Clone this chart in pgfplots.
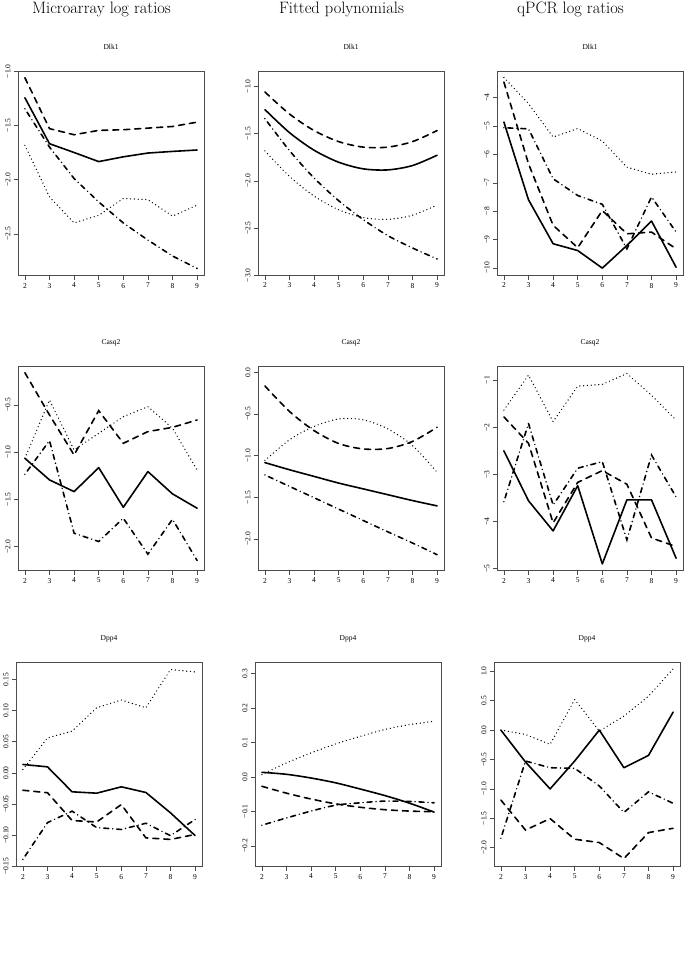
\documentclass[border=0pt]{standalone}
\usepackage{pgfplots}
\pgfplotsset{compat=1.18}
\usepackage{fontspec}
\newfontfamily\timesfont{Liberation Serif}
\newcommand\tickfont{\fontsize{7.5}{8}\selectfont\timesfont}
\pgfplotsset{
  rplot/.style={
    scale only axis, width=186pt, height=204.5pt,
    anchor=north west,
    xmin=1.72, xmax=9.28,
    xtick={2,3,4,5,6,7,8,9},
    xticklabels={2,3,4,5,6,7,8,9},
    axis line style={black!70, line width=0.6pt},
    tick align=outside, major tick length=4pt,
    tick style={black!70, line width=0.5pt},
    xtick pos=left, ytick pos=left,
    ticklabel style={font=\tickfont},
    /pgf/number format/assume math mode=true,
    yticklabel style={rotate=90, anchor=south},
    title style={font=\tickfont, at={(0.5,1)}, anchor=base, yshift=16pt},
  },
  sol/.style={black, line width=1.6pt, line cap=round, line join=round},
  dsh/.style={black, line width=1.6pt, line cap=round, dash pattern=on 6pt off 5pt},
  dtt/.style={black, line width=1.4pt, line cap=round, dash pattern=on 0pt off 3.8pt},
  dd/.style={black, line width=1.6pt, line cap=round, dash pattern=on 0pt off 4pt on 5pt off 4pt},
}
\begin{document}
\begin{tikzpicture}
\useasboundingbox (0,0) rectangle (685pt,-974pt);
\node[anchor=base, font=\fontsize{16.5}{20}\selectfont] at (101.5pt,-13.5pt) {Microarray log ratios};
\node[anchor=base, font=\fontsize{16.5}{20}\selectfont] at (341.5pt,-13.5pt) {Fitted polynomials};
\node[anchor=base, font=\fontsize{16.5}{20}\selectfont] at (570.5pt,-13.5pt) {qPCR log ratios};

% Row 1: Dlk1
\begin{axis}[rplot, at={(18pt,-71pt)}, title=Dlk1,
  ymin=-2.885, ymax=-0.998,
  ytick={-2.5,-2,-1.5,-1}, yticklabels={−2.5,−2.0,−1.5,−1.0}]
\addplot[sol] coordinates {(2,-1.245)(3,-1.669)(4,-1.75)(5,-1.834)(6,-1.79)(7,-1.755)(8,-1.74)(9,-1.727)};
\addplot[dsh] coordinates {(2,-1.06)(3,-1.53)(4,-1.586)(5,-1.546)(6,-1.54)(7,-1.525)(8,-1.51)(9,-1.47)};
\addplot[dtt] coordinates {(2,-1.684)(3,-2.16)(4,-2.40)(5,-2.33)(6,-2.175)(7,-2.185)(8,-2.337)(9,-2.236)};
\addplot[dd] coordinates {(2,-1.347)(3,-1.70)(4,-1.99)(5,-2.206)(6,-2.40)(7,-2.558)(8,-2.705)(9,-2.82)};
\end{axis}

\begin{axis}[rplot, at={(258pt,-71pt)}, title=Dlk1,
  ymin=-3.001, ymax=-0.838,
  ytick={-3,-2.5,-2,-1.5,-1}, yticklabels={−3.0,−2.5,−2.0,−1.5,−1.0}]
\addplot[sol, smooth] coordinates {(2,-1.246)(3,-1.49)(4,-1.676)(5,-1.803)(6,-1.873)(7,-1.884)(8,-1.838)(9,-1.729)};
\addplot[dsh, smooth] coordinates {(2,-1.06)(3,-1.293)(4,-1.468)(5,-1.585)(6,-1.643)(7,-1.643)(8,-1.585)(9,-1.468)};
\addplot[dtt, smooth] coordinates {(2,-1.683)(3,-1.953)(4,-2.161)(5,-2.306)(6,-2.388)(7,-2.407)(8,-2.363)(9,-2.256)};
\addplot[dd, smooth] coordinates {(2,-1.342)(3,-1.68)(4,-1.97)(5,-2.21)(6,-2.41)(7,-2.58)(8,-2.71)(9,-2.826)};
\end{axis}

\begin{axis}[rplot, at={(497pt,-71pt)}, title=Dlk1,
  ymin=-10.27, ymax=-3.06,
  ytick={-10,-9,-8,-7,-6,-5,-4}, yticklabels={−10,−9,−8,−7,−6,−5,−4}]
\addplot[sol] coordinates {(2,-4.86)(3,-7.6)(4,-9.15)(5,-9.39)(6,-10.01)(7,-9.21)(8,-8.35)(9,-9.98)};
\addplot[dsh] coordinates {(2,-3.45)(3,-6.33)(4,-8.5)(5,-9.29)(6,-7.98)(7,-8.8)(8,-8.74)(9,-9.33)};
\addplot[dtt] coordinates {(2,-3.29)(3,-4.21)(4,-5.39)(5,-5.09)(6,-5.53)(7,-6.45)(8,-6.7)(9,-6.62)};
\addplot[dd] coordinates {(2,-5.06)(3,-5.1)(4,-6.86)(5,-7.45)(6,-7.76)(7,-9.33)(8,-7.5)(9,-8.74)};
\end{axis}

% Row 2: Casq2
\begin{axis}[rplot, at={(18pt,-366pt)}, title=Casq2,
  ymin=-2.254, ymax=-0.087,
  ytick={-2,-1.5,-1,-0.5}, yticklabels={−2.0,−1.5,−1.0,−0.5}]
\addplot[sol] coordinates {(2,-1.065)(3,-1.294)(4,-1.418)(5,-1.164)(6,-1.584)(7,-1.206)(8,-1.442)(9,-1.594)};
\addplot[dsh] coordinates {(2,-0.158)(3,-0.606)(4,-1.03)(5,-0.56)(6,-0.906)(7,-0.782)(8,-0.737)(9,-0.659)};
\addplot[dtt] coordinates {(2,-1.065)(3,-0.447)(4,-0.977)(5,-0.8)(6,-0.624)(7,-0.518)(8,-0.747)(9,-1.188)};
\addplot[dd] coordinates {(2,-1.234)(3,-0.878)(4,-1.859)(5,-1.947)(6,-1.7)(7,-2.081)(8,-1.711)(9,-2.148)};
\end{axis}

\begin{axis}[rplot, at={(258pt,-366pt)}, title=Casq2,
  ymin=-2.38, ymax=0.076,
  ytick={-2,-1.5,-1,-0.5,0}, yticklabels={−2.0,−1.5,−1.0,−0.5,0.0}]
\addplot[sol, smooth] coordinates {(2,-1.084)(3,-1.17)(4,-1.25)(5,-1.33)(6,-1.40)(7,-1.47)(8,-1.54)(9,-1.604)};
\addplot[dsh, smooth] coordinates {(2,-0.164)(3,-0.47)(4,-0.70)(5,-0.855)(6,-0.92)(7,-0.915)(8,-0.83)(9,-0.66)};
\addplot[dtt, smooth] coordinates {(2,-1.06)(3,-0.81)(4,-0.65)(5,-0.56)(6,-0.57)(7,-0.68)(8,-0.88)(9,-1.20)};
\addplot[dd, smooth] coordinates {(2,-1.232)(3,-1.37)(4,-1.506)(5,-1.643)(6,-1.78)(7,-1.916)(8,-2.05)(9,-2.19)};
\end{axis}

\begin{axis}[rplot, at={(497pt,-366pt)}, title=Casq2,
  ymin=-5.04, ymax=-0.70,
  ytick={-5,-4,-3,-2,-1}, yticklabels={−5,−4,−3,−2,−1}]
\addplot[sol] coordinates {(2,-2.50)(3,-3.56)(4,-4.20)(5,-3.24)(6,-4.9)(7,-3.54)(8,-3.54)(9,-4.78)};
\addplot[dsh] coordinates {(2,-1.78)(3,-2.34)(4,-4.03)(5,-3.17)(6,-2.92)(7,-3.21)(8,-4.35)(9,-4.53)};
\addplot[dtt] coordinates {(2,-1.635)(3,-0.894)(4,-1.88)(5,-1.127)(6,-1.09)(7,-0.86)(8,-1.32)(9,-1.85)};
\addplot[dd] coordinates {(2,-3.58)(3,-1.92)(4,-3.65)(5,-2.87)(6,-2.73)(7,-4.39)(8,-2.59)(9,-3.48)};
\end{axis}

% Row 3: Dpp4
\begin{axis}[rplot, at={(16pt,-662pt)}, title=Dpp4,
  ymin=-0.1505, ymax=0.178,
  ytick={-0.15,-0.1,-0.05,0,0.05,0.1,0.15}, yticklabels={−0.15,−0.10,−0.05,0.00,0.05,0.10,0.15}]
\addplot[sol] coordinates {(2,0.0134)(3,0.0096)(4,-0.0305)(5,-0.0327)(6,-0.0225)(7,-0.0316)(8,-0.0643)(9,-0.1008)};
\addplot[dsh] coordinates {(2,-0.028)(3,-0.032)(4,-0.0766)(5,-0.079)(6,-0.051)(7,-0.1045)(8,-0.107)(9,-0.099)};
\addplot[dtt] coordinates {(2,0.0054)(3,0.056)(4,0.067)(5,0.1045)(6,0.117)(7,0.1045)(8,0.166)(9,0.162)};
\addplot[dd] coordinates {(2,-0.139)(3,-0.080)(4,-0.0616)(5,-0.088)(6,-0.091)(7,-0.081)(8,-0.101)(9,-0.075)};
\end{axis}

\begin{axis}[rplot, at={(255pt,-662pt)}, title=Dpp4,
  ymin=-0.26, ymax=0.334,
  ytick={-0.2,-0.1,0,0.1,0.2,0.3}, yticklabels={−0.2,−0.1,0.0,0.1,0.2,0.3}]
\addplot[sol, smooth] coordinates {(2,0.0136)(3,0.0078)(4,-0.003)(5,-0.017)(6,-0.035)(7,-0.054)(8,-0.076)(9,-0.102)};
\addplot[dsh, smooth] coordinates {(2,-0.027)(3,-0.047)(4,-0.064)(5,-0.078)(6,-0.088)(7,-0.095)(8,-0.099)(9,-0.101)};
\addplot[dtt, smooth] coordinates {(2,0.007)(3,0.041)(4,0.070)(5,0.096)(6,0.118)(7,0.138)(8,0.152)(9,0.162)};
\addplot[dd, smooth] coordinates {(2,-0.14)(3,-0.119)(4,-0.099)(5,-0.082)(6,-0.075)(7,-0.07)(8,-0.071)(9,-0.075)};
\end{axis}

\begin{axis}[rplot, at={(494pt,-662pt)}, title=Dpp4,
  ymin=-2.32, ymax=1.158,
  ytick={-2,-1.5,-1,-0.5,0,0.5,1}, yticklabels={−2.0,−1.5,−1.0,−0.5,0.0,0.5,1.0}]
\addplot[sol] coordinates {(2,0)(3,-0.543)(4,-1.0)(5,-0.526)(6,0)(7,-0.64)(8,-0.43)(9,0.306)};
\addplot[dsh] coordinates {(2,-1.19)(3,-1.70)(4,-1.505)(5,-1.856)(6,-1.913)(7,-2.185)(8,-1.743)(9,-1.67)};
\addplot[dtt] coordinates {(2,0)(3,-0.074)(4,-0.243)(5,0.52)(6,-0.017)(7,0.238)(8,0.577)(9,1.04)};
\addplot[dd] coordinates {(2,-1.84)(3,-0.526)(4,-0.64)(5,-0.65)(6,-0.95)(7,-1.40)(8,-1.05)(9,-1.245)};
\end{axis}
\end{tikzpicture}
\end{document}
